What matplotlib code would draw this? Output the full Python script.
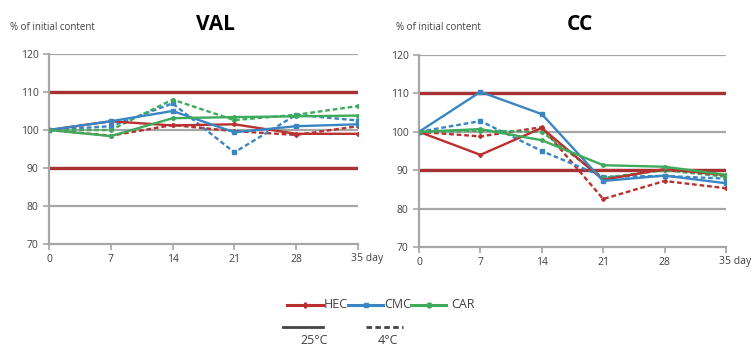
import matplotlib
matplotlib.use("Agg")
import matplotlib.pyplot as plt
from matplotlib.lines import Line2D

plt.rcParams['font.family'] = ['Open Sans', 'DejaVu Sans']

days = [0, 7, 14, 21, 28, 35]
y_ticks = [70, 80, 90, 100, 110, 120]
limits = [90, 110]

# VAL panel
val_hec_25 = [100, 102.3, 101.2, 101.5, 99.0, 99.0]
val_hec_4 = [100, 98.5, 101.3, 99.7, 98.7, 101.0]
val_cmc_25 = [100, 102.3, 105.0, 99.4, 101.0, 101.5]
val_cmc_4 = [100, 101.0, 107.0, 94.1, 104.0, 102.5]
val_car_25 = [100, 98.4, 103.1, 103.4, 103.6, 103.8]
val_car_4 = [100, 100.0, 108.0, 102.6, 104.0, 106.3]

# CC panel
cc_hec_25 = [100, 94.0, 101.0, 87.5, 90.3, 88.7]
cc_hec_4 = [100, 98.8, 101.2, 82.5, 87.2, 85.3]
cc_cmc_25 = [100, 110.4, 104.6, 87.2, 88.6, 86.6]
cc_cmc_4 = [100, 102.8, 95.0, 88.3, 88.5, 87.8]
cc_car_25 = [100, 100.7, 97.8, 91.3, 90.9, 88.8]
cc_car_4 = [100, 100.3, 100.0, 88.0, 90.0, 88.3]

C_HEC = '#b8312f'
C_CMC = '#3a86c4'
C_CAR = '#3daa5c'
C_GRID = '#a6a6a6'
C_LIM = '#a83232'
C_TXT = '#404040'

fig = plt.figure(figsize=(7.54, 3.52), dpi=100)
W, H = 754, 352

def make_ax(l, r, t, b):
    return fig.add_axes([l / W, (H - b) / H, (r - l) / W, (b - t) / H])

ax1 = make_ax(49, 358, 54, 244)
ax2 = make_ax(419, 726, 55, 247)

panels = [
    (ax1, 'VAL', [(val_hec_25, val_hec_4, C_HEC, 'P'), (val_cmc_25, val_cmc_4, C_CMC, 's'), (val_car_25, val_car_4, C_CAR, 'o')]),
    (ax2, 'CC', [(cc_hec_25, cc_hec_4, C_HEC, 'P'), (cc_cmc_25, cc_cmc_4, C_CMC, 's'), (cc_car_25, cc_car_4, C_CAR, 'o')]),
]

for ax, title, series in panels:
    ax.set_xlim(0, 35)
    ax.set_ylim(70, 120)
    for yv in y_ticks:
        if yv == 70:
            continue
        ax.axhline(yv, color=C_GRID, lw=1.6, zorder=1)
    for yv in limits:
        ax.axhline(yv, color=C_LIM, lw=2.4, zorder=2)
    for s25, s4, c, m in series:
        ax.plot(days, s25, color=c, lw=1.7, marker=m, ms=2.5, zorder=4)
        ax.plot(days, s4, color=c, lw=1.7, ls=(0, (2, 1.2)), marker=m, ms=2.5, zorder=3)
    for sp in ['top', 'right']:
        ax.spines[sp].set_visible(False)
    for sp in ['left', 'bottom']:
        ax.spines[sp].set_color(C_GRID)
        ax.spines[sp].set_linewidth(1.6)
    ax.set_yticks(y_ticks)
    ax.set_xticks(days)
    ax.set_xticklabels([str(d) for d in days[:-1]] + [''])
    ax.tick_params(axis='both', colors=C_GRID, labelcolor=C_TXT, labelsize=7.5, length=4, width=1.2)
    ax.text(34.2, -0.045, '35 day', transform=ax.get_xaxis_transform(), ha='left', va='top',
            fontsize=7.5, color=C_TXT)
    ax.set_facecolor('none')

fig.text(215 / W, 1 - 25 / H, 'VAL', ha='center', va='center', fontsize=15, fontweight='bold', color='black')
fig.text(580 / W, 1 - 24 / H, 'CC', ha='center', va='center', fontsize=15, fontweight='bold', color='black')
fig.text(10 / W, 1 - 27 / H, '% of initial content', ha='left', va='center', fontsize=7, color=C_TXT)
fig.text(396 / W, 1 - 28 / H, '% of initial content', ha='left', va='center', fontsize=7, color=C_TXT)

# legend
names = ['HEC', 'CMC', 'CAR']
cols = [C_HEC, C_CMC, C_CAR]
marks = ['P', 's', 'o']
seg = [(287, 323, 324), (348, 383, 384), (411, 446, 451)]
ly = 1 - 305 / H
for (x0, x1, xt), n, c, m in zip(seg, names, cols, marks):
    fig.add_artist(Line2D([x0 / W, x1 / W], [ly, ly], color=c, lw=2.2))
    fig.add_artist(Line2D([(x0 + x1) / 2 / W], [ly], color=c, marker=m, ms=3.5, mfc='none' if m == 's' else c))
    fig.text(xt / W, ly, n, ha='left', va='center', fontsize=9, color=C_TXT)
ly2 = 1 - 327 / H
fig.add_artist(Line2D([283 / W, 323 / W], [ly2, ly2], color='#444444', lw=2))
fig.add_artist(Line2D([366 / W, 403 / W], [ly2, ly2], color='#444444', lw=2, ls=(0, (2, 1.2))))
fig.text(314 / W, 1 - 340 / H, '25°C', ha='center', va='center', fontsize=9, color=C_TXT)
fig.text(388 / W, 1 - 340 / H, '4°C', ha='center', va='center', fontsize=9, color=C_TXT)

fig.savefig('out.png', dpi=100)
